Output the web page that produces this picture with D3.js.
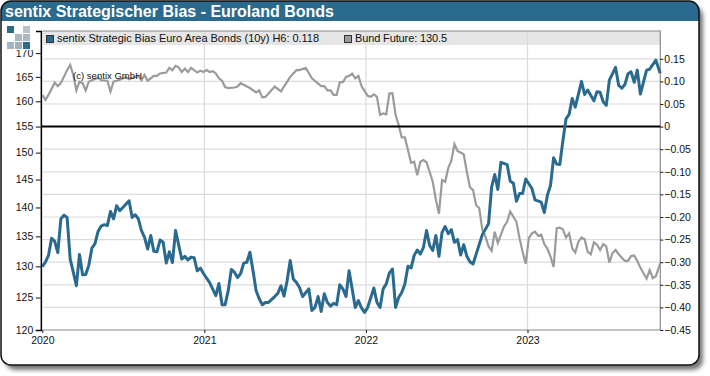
<!DOCTYPE html>
<html>
<head>
<meta charset="utf-8">
<script src="https://cdn.jsdelivr.net/npm/d3@7"></script>
<style>
  html, body { margin: 0; padding: 0; background: #fff; }
  text { font-family: "Liberation Sans", Arial, sans-serif; }
</style>
</head>
<body>
<div id="vis"></div>
<script>
// [week since 2020-01-01, value]
const biasData = [
  [0,-.310],[1,-.300],[2,-.285],[3,-.247],[4,-.254],[5,-.279],[6,-.204],[7,-.196],[8,-.201],[9,-.293],
  [10,-.322],[11,-.352],[12,-.283],[13,-.328],[14,-.327],[15,-.307],[16,-.269],[17,-.259],[18,-.232],[19,-.220],
  [20,-.217],[21,-.219],[22,-.188],[23,-.204],[24,-.175],[25,-.186],[26,-.179],[28,-.164],[29,-.201],[30,-.195],
  [31,-.204],[32,-.230],[33,-.245],[34,-.271],[35,-.241],[36,-.276],[37,-.277],[38,-.251],[39,-.256],[40,-.302],
  [41,-.277],[42,-.301],[43,-.230],[45,-.293],[46,-.287],[47,-.295],[48,-.289],[49,-.290],[50,-.319],[51,-.313],
  [52,-.325],[54,-.345],[56,-.374],[57,-.347],[58,-.394],[59,-.394],[60,-.363],[61,-.316],[62,-.322],[63,-.334],
  [64,-.325],[65,-.302],[66,-.300],[67,-.278],[68,-.319],[69,-.363],[70,-.381],[71,-.394],[72,-.389],[73,-.389],
  [75,-.376],[76,-.369],[77,-.352],[78,-.375],[79,-.341],[80,-.296],[81,-.337],[82,-.345],[83,-.356],[84,-.376],
  [86,-.359],[87,-.407],[88,-.400],[89,-.376],[90,-.409],[91,-.370],[92,-.389],[93,-.397],[94,-.391],[95,-.394],
  [96,-.350],[97,-.359],[98,-.376],[99,-.319],[101,-.400],[102,-.385],[103,-.401],[104,-.411],[105,-.400],[107,-.357],
  [108,-.389],[109,-.400],[110,-.359],[111,-.348],[112,-.324],[113,-.315],[114,-.400],[115,-.378],[116,-.367],[117,-.348],
  [118,-.309],[119,-.313],[120,-.285],[121,-.273],[122,-.282],[123,-.267],[124,-.230],[125,-.263],[126,-.274],[127,-.241],
  [128,-.287],[129,-.234],[130,-.221],[131,-.237],[132,-.228],[133,-.256],[134,-.250],[135,-.284],[136,-.261],[137,-.287],
  [138,-.299],[139,-.304],[142,-.239],[144,-.215],[145,-.134],[146,-.106],[147,-.139],[148,-.079],[150,-.084],[151,-.121],
  [152,-.125],[153,-.165],[154,-.148],[155,-.148],[156,-.116],[158,-.137],[159,-.162],[161,-.167],[162,-.190],[163,-.152],
  [164,-.130],[165,-.069],[166,-.083],[167,-.084],[168,-.031],[169,.017],[170,.027],[171,.062],[172,.043],[174,.100],
  [175,.071],[176,.081],[178,.057],[179,.077],[180,.076],[181,.055],[182,.047],[183,.103],[185,.131],[186,.091],
  [187,.085],[188,.093],[189,.117],[190,.121],[191,.098],[192,.125],[193,.072],[195,.125],[196,.127],[198,.147],[199.4,.118]
];

const bundData = [
  [0,161.3],[1,160.3],[2,161.3],[4,163.8],[5,163.1],[6,163.7],[8,166.4],[9,167.5],[10,165.4],[11,162.2],
  [12,164.0],[13,163.7],[14,162.2],[15,164.0],[16,164.3],[18,164.8],[19,164.3],[21,164.2],[22,162.0],[23,164.0],
  [25,164.4],[27,164.9],[28,164.5],[30,165.0],[31,165.2],[32,164.3],[33,165.4],[34,164.2],[36,165.2],[37,165.2],
  [38,165.7],[40,165.9],[41,166.9],[42,166.4],[43,167.3],[44,167.0],[45,166.0],[46,166.7],[47,166.0],[48,166.9],
  [50,165.9],[51,166.3],[52,166.0],[53,166.4],[54,166.0],[55,166.2],[56,165.7],[57,164.7],[58,164.2],[59,162.9],
  [60,162.7],[62,162.8],[63,163.0],[64,163.7],[67,162.7],[69,161.8],[70,162.2],[71,160.8],[72,160.9],[75,163.0],
  [77,162.0],[80,165.0],[82,166.4],[83,166.4],[85,166.9],[87,164.7],[90,163.1],[91,163.1],[92,162.2],[93,162.2],
  [94,161.3],[95,161.3],[96,163.9],[97,163.9],[98,165.0],[99,165.2],[100,165.7],[101,164.7],[102,165.2],[103,163.1],
  [105,161.1],[106,160.9],[107,161.4],[108,160.9],[109,157.3],[110,157.6],[111,157.4],[112,161.6],[113,161.6],[114,157.3],
  [115,155.3],[116,152.9],[117,152.9],[118,150.5],[119,148.1],[120,148.3],[121,145.8],[122,148.3],[123,148.6],[124,148.2],
  [126,144.6],[127,141.4],[128,138.9],[129,144.9],[130,144.6],[131,147.1],[132,148.5],[133,151.6],[134,150.3],[136,149.7],
  [137,146.4],[138,143.6],[139,143.1],[140,140.4],[141,139.9],[142,136.1],[143,135.0],[144,133.3],[145,132.6],[146,135.8],
  [147,133.9],[149,136.7],[150,137.5],[151,139.3],[153,137.5],[154,134.7],[155,132.4],[156,130.4],[157,134.7],[158,135.5],
  [159,135.8],[160,135.1],[161,135.3],[162,133.7],[163,132.9],[164,131.6],[165,129.9],[166,136.4],[167,136.5],[168,136.2],
  [169,134.8],[170,135.5],[171,133.0],[172,132.3],[173,134.1],[174,134.8],[175,134.5],[176,132.4],[177,132.0],[178,134.0],
  [179,133.6],[180,132.7],[181,133.7],[182,133.3],[183,130.6],[184,132.2],[185,132.7],[186,132.0],[188,130.9],[189,130.9],
  [190,131.7],[191,131.8],[192,130.9],[193,129.8],[195,128.0],[196,129.4],[197,128.1],[198,128.4],[199.4,130.5]
];

const bundTicks = [120, 125, 130, 135, 140, 145, 150, 155, 160, 165, 170];
const biasTicks = [0.15, 0.10, 0.05, 0, -0.05, -0.10, -0.15, -0.20, -0.25, -0.30, -0.35, -0.40, -0.45];
const yearTicks = [2020, 2021, 2022, 2023];
const titleText = "sentix Strategischer Bias - Euroland Bonds";
const biasLabel = "sentix Strategic Bias Euro Area Bonds (10y) H6: 0.118";
const bundLabel = "Bund Future: 130.5";

const width = 710;
const height = 376;
const blue = "#2a6a8e";
const gray = "#9b9b9b";
const start = new Date(2020, 0, 1);
const weekDate = w => new Date(start.getTime() + w * 7 * 864e5);

const svg = d3.select("#vis")
  .append("svg")
  .attr("width", width)
  .attr("height", height)
  .style("display", "block");

const plot = { left: 42.3, right: 660.3, top: 31, bottom: 330 };

const x = d3.scaleTime()
  .domain([start, new Date(2023, 9, 28)])
  .range([plot.left, plot.right]);
const yBund = d3.scaleLog()
  .domain([120, 174.8])
  .range([plot.bottom, plot.top]);
const yBias = d3.scaleLinear()
  .domain([-0.45, 0.2115])
  .range([plot.bottom, plot.top]);

// frame with shadow
const defs = svg.append("defs");
const blur = defs.append("filter").attr("id", "shadow")
  .attr("x", "-5%").attr("y", "-5%").attr("width", "110%").attr("height", "110%");
blur.append("feGaussianBlur").attr("stdDeviation", 2.2);
const clip = defs.append("clipPath").attr("id", "frame");
clip.append("rect").attr("x", 1).attr("y", 1).attr("width", 698).attr("height", 364).attr("rx", 10);

svg.append("rect").attr("x", 5).attr("y", 6).attr("width", 698).attr("height", 364).attr("rx", 10)
  .attr("fill", "#777").attr("filter", "url(#shadow)");
svg.append("rect").attr("x", 1).attr("y", 1).attr("width", 698).attr("height", 364).attr("rx", 10)
  .attr("fill", "#fff");
svg.append("rect").attr("x", 0).attr("y", 0).attr("width", 710).attr("height", 21)
  .attr("fill", blue).attr("clip-path", "url(#frame)");
svg.append("rect").attr("x", 1).attr("y", 1).attr("width", 698).attr("height", 364).attr("rx", 10)
  .attr("fill", "none").attr("stroke", "#111").attr("stroke-width", 1.5);

svg.append("text")
  .attr("x", 5).attr("y", 17)
  .attr("fill", "#fff")
  .attr("font-size", 16)
  .attr("font-weight", "bold")
  .text(titleText);

// legend band
svg.append("rect")
  .attr("x", plot.left).attr("y", plot.top)
  .attr("width", plot.right - plot.left).attr("height", 14)
  .attr("fill", "#e6e6e6");

// grid
svg.append("g").selectAll("line")
  .data(biasTicks.filter(d => d > -0.45 && d !== 0))
  .join("line")
  .attr("x1", plot.left).attr("x2", plot.right)
  .attr("y1", d => yBias(d)).attr("y2", d => yBias(d))
  .attr("stroke", "#dcdcdc").attr("stroke-width", 1.2);
svg.append("g").selectAll("line")
  .data(yearTicks)
  .join("line")
  .attr("x1", d => x(new Date(d, 0, 1))).attr("x2", d => x(new Date(d, 0, 1)))
  .attr("y1", plot.top).attr("y2", plot.bottom)
  .attr("stroke", "#dcdcdc").attr("stroke-width", 1.2);

// plot border
svg.append("path")
  .attr("d", d3.line()([[plot.left, plot.top], [plot.right, plot.top], [plot.right, plot.bottom], [plot.left, plot.bottom]]))
  .attr("fill", "none").attr("stroke", "#8a8a8a").attr("stroke-width", 1.2);

const line = yScale => d3.line()
  .x(d => x(weekDate(d[0])))
  .y(d => yScale(d[1]));

svg.append("path")
  .datum(bundData)
  .attr("d", line(yBund))
  .attr("fill", "none").attr("stroke", gray).attr("stroke-width", 2.2);

svg.append("line")
  .attr("x1", plot.left - 1).attr("x2", plot.right)
  .attr("y1", yBias(0)).attr("y2", yBias(0))
  .attr("stroke", "#000").attr("stroke-width", 2);

svg.append("path")
  .datum(biasData)
  .attr("d", line(yBias))
  .attr("fill", "none").attr("stroke", blue).attr("stroke-width", 3)
  .attr("stroke-linejoin", "round");

// axes
const axisLeft = svg.append("g")
  .attr("transform", `translate(${plot.left - 1.5},0)`)
  .call(d3.axisLeft(yBund).tickValues(bundTicks).tickFormat(d3.format("d")).tickSize(5).tickPadding(2.5));
const axisRight = svg.append("g")
  .attr("transform", `translate(${plot.right},0)`)
  .call(d3.axisRight(yBias).tickValues(biasTicks).tickFormat(d => d === 0 ? "0" : d3.format(".2f")(d)).tickSize(3).tickPadding(1));
const axisBottom = svg.append("g")
  .attr("transform", `translate(0,${plot.bottom})`)
  .call(d3.axisBottom(x).tickValues(yearTicks.map(d => new Date(d, 0, 1))).tickFormat(d3.timeFormat("%Y")).tickSize(3).tickPadding(3.5));

[axisLeft, axisRight, axisBottom].forEach(g => {
  g.selectAll("text").attr("font-size", 10.5).attr("fill", "#111")
    .style("font-family", '"Liberation Sans", Arial, sans-serif');
  g.selectAll("line").attr("stroke", "#111");
});
axisLeft.select(".domain").attr("stroke", "#000").attr("stroke-width", 1.4);
axisRight.select(".domain").remove();
axisBottom.select(".domain").remove();

// legend
svg.append("rect").attr("x", 46.5).attr("y", 35.5).attr("width", 7).attr("height", 7)
  .attr("fill", blue).attr("stroke", "#333");
svg.append("text").attr("x", 57).attr("y", 42).attr("font-size", 11).attr("fill", "#111")
  .attr("textLength", 262).text(biasLabel);
svg.append("rect").attr("x", 344.5).attr("y", 35.5).attr("width", 7).attr("height", 7)
  .attr("fill", gray).attr("stroke", "#333");
svg.append("text").attr("x", 355).attr("y", 42).attr("font-size", 11).attr("fill", "#111")
  .attr("textLength", 92).text(bundLabel);

svg.append("text").attr("x", 73).attr("y", 79).attr("font-size", 9.5).attr("fill", "#111")
  .attr("textLength", 69).text("(c) sentix GmbH");

// logo over the top of the 170 label
svg.append("rect").attr("x", 5).attr("y", 24).attr("width", 31).attr("height", 26).attr("fill", "#fff");
const logoCells = [[0, 0, blue], [2, 0, "#b4c3cd"], [1, 1, "#a9bac6"], [2, 1, "#a9bac6"], [0, 2, "#a3b5c2"], [1, 2, "#9db0be"], [2, 2, blue]];
svg.append("g").selectAll("rect")
  .data(logoCells)
  .join("rect")
  .attr("x", d => 7 + d[0] * 8)
  .attr("y", d => 26 + d[1] * 8)
  .attr("width", 7).attr("height", 7)
  .attr("fill", d => d[2]);
</script>
</body>
</html>
